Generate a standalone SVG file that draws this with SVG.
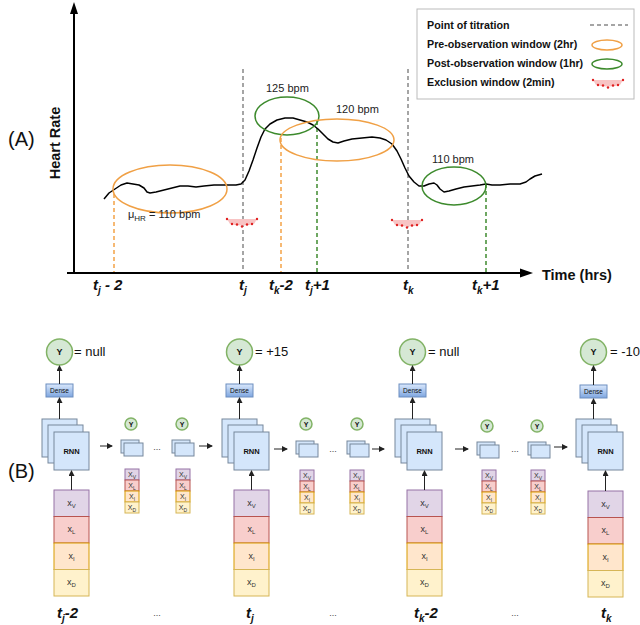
<svg xmlns="http://www.w3.org/2000/svg" width="640" height="625" viewBox="0 0 640 625">
<style>
text{font-family:"Liberation Sans",Arial,sans-serif;fill:#111}
.bi{font-weight:bold;font-style:italic;font-size:15px}
.lg{font-weight:bold;font-size:10.7px}
.bpm{font-size:11px;fill:#222}
.gd{stroke:#888;stroke-width:1.5;stroke-dasharray:4,3;fill:none}
.od{stroke:#f3a347;stroke-width:1.5;stroke-dasharray:4,3;fill:none}
.grd{stroke:#3f8a2f;stroke-width:1.5;stroke-dasharray:4,3;fill:none}
.oe{fill:none;stroke:#f0a045;stroke-width:1.5}
.ge{fill:none;stroke:#3c8a2c;stroke-width:1.5}
.rnn{fill:#d4e6fb;stroke:#76879c;stroke-width:1}
.yc{fill:#d5e8d4;stroke:#82b366;stroke-width:1.5}
.yt{font-weight:bold;font-size:9px;text-anchor:middle}
.yts{font-weight:bold;font-size:7px;text-anchor:middle}
.eq{font-size:13px}
.cv{fill:#e1d5e7;stroke:#9673a6}
.cl{fill:#f8cecc;stroke:#b85450}
.ci{fill:#ffe6cc;stroke:#d79b00}
.cd{fill:#fff2cc;stroke:#d6b656}
.xt{font-size:9px;text-anchor:middle;fill:#333}
.xs{font-size:7px;text-anchor:middle;fill:#333}
.ar{stroke:#222;stroke-width:1;fill:none;marker-end:url(#ah)}
.dots{font-size:9px;text-anchor:middle;fill:#444}
</style>
<defs>
<marker id="ah" markerUnits="userSpaceOnUse" markerWidth="6" markerHeight="6" refX="5" refY="3" orient="auto"><path d="M0,0 L6,3 L0,6 z" fill="#222"/></marker>
<linearGradient id="dg" x1="0" y1="0" x2="0" y2="1"><stop offset="0" stop-color="#dae8fc"/><stop offset="1" stop-color="#7ea6e0"/></linearGradient>
<g id="excl">
<path d="M0,0 L30,0 L27,5 Q15,8 3,5 z" fill="#f8c4c4"/>
<g fill="#e02020"><circle cx="0" cy="0" r="1.2"/><circle cx="30" cy="0" r="1.2"/><circle cx="5" cy="5" r="1.2"/><circle cx="10" cy="5.5" r="1.2"/><circle cx="15" cy="7.5" r="1.2"/><circle cx="20" cy="5.5" r="1.2"/><circle cx="25" cy="5" r="1.2"/></g>
</g>
</defs>
<rect width="640" height="625" fill="#fff"/>

<!-- Panel A -->
<g id="panelA">
<text x="8" y="146" font-size="20">(A)</text>
<text transform="translate(60,143) rotate(-90)" text-anchor="middle" font-weight="bold" font-size="14.5">Heart Rate</text>
<line x1="74" y1="273" x2="74" y2="12" stroke="#000" stroke-width="2"/>
<polygon points="74,2 70,14 78,14" fill="#000"/>
<line x1="67" y1="273" x2="521" y2="273" stroke="#000" stroke-width="2"/>
<polygon points="533,273 520,268.5 520,277.5" fill="#000"/>
<text x="542" y="280" font-weight="bold" font-size="14.5">Time (hrs)</text>

<line class="gd" x1="243" y1="69" x2="243" y2="272"/>
<line class="gd" x1="408" y1="69" x2="408" y2="272"/>
<line class="od" x1="114" y1="194" x2="114" y2="272"/>
<line class="od" x1="281" y1="138" x2="281" y2="272"/>
<line class="grd" x1="317" y1="121" x2="317" y2="272"/>
<line class="grd" x1="486" y1="184" x2="486" y2="272"/>

<polyline fill="none" stroke="#000" stroke-width="1.5" stroke-linejoin="round" points="104,199 109,193 115,189 121,185 127,183 133,184 139,185 144,188 147,192 150,193 156,192 164,190 172,188 180,186 188,186 196,187 204,186 214,185 226,185 236,185 241,184 245,180 249,171 253,160 257,148 261,137 265,129 270,124 277,120 285,118 293,118 300,120 307,122 313,125 318,129 323,134 328,139 333,142 338,143 344,141 352,139 362,138 372,137 380,138 386,140 392,144 397,151 401,159 405,168 409,176 414,182 419,186 424,186 429,184 434,183 437,185 440,189 444,192 449,191 456,189 464,187 472,186 480,185 486,184 492,185 500,185 510,184 520,184 526,182 530,179 535,176 542,174"/>

<ellipse class="oe" cx="170" cy="189" rx="57" ry="24"/>
<ellipse class="ge" cx="287" cy="116" rx="32" ry="19"/>
<ellipse class="oe" cx="337" cy="140" rx="57" ry="21"/>
<ellipse class="ge" cx="454" cy="186" rx="32" ry="19"/>

<text class="bpm" x="266" y="92">125 bpm</text>
<text class="bpm" x="336" y="113">120 bpm</text>
<text class="bpm" x="432" y="163">110 bpm</text>
<text class="bpm" x="128" y="218">μ<tspan font-size="8" dy="3">HR</tspan><tspan dy="-3"> = 110 bpm</tspan></text>

<use href="#excl" x="227" y="219"/>
<use href="#excl" x="392" y="220"/>

<text class="bi" x="93" y="290">t<tspan font-size="10" dy="4">j</tspan><tspan dy="-4"> - 2</tspan></text>
<text class="bi" x="239" y="290">t<tspan font-size="10" dy="4">j</tspan></text>
<text class="bi" x="269" y="290">t<tspan font-size="10" dy="4">k</tspan><tspan dy="-4">-2</tspan></text>
<text class="bi" x="305" y="290">t<tspan font-size="10" dy="4">j</tspan><tspan dy="-4">+1</tspan></text>
<text class="bi" x="403" y="290">t<tspan font-size="10" dy="4">k</tspan></text>
<text class="bi" x="472" y="290">t<tspan font-size="10" dy="4">k</tspan><tspan dy="-4">+1</tspan></text>
</g>

<g id="legend">
<rect x="417" y="9" width="217" height="90" fill="#fff" stroke="#bbb" stroke-width="1"/>
<text class="lg" x="427" y="29">Point of titration</text>
<text class="lg" x="427" y="48">Pre-observation window (2hr)</text>
<text class="lg" x="427" y="67">Post-observation window (1hr)</text>
<text class="lg" x="427" y="86">Exclusion window (2min)</text>
<line class="gd" x1="590" y1="25" x2="628" y2="25"/>
<ellipse class="oe" cx="607" cy="45" rx="15" ry="5"/>
<ellipse class="ge" cx="607" cy="64" rx="15" ry="5"/>
<use href="#excl" x="593" y="80"/>
</g>

<!-- Panel B -->
<text x="8" y="478" font-size="20">(B)</text>

<g id="col1">
<circle class="yc" cx="59.5" cy="352" r="13"/><text class="yt" x="59.5" y="355">Y</text>
<text class="eq" x="74" y="356">= null</text>
<rect x="46" y="384" width="27" height="13" fill="url(#dg)" stroke="#6c8ebf"/><text x="59.5" y="393" font-size="6.5" text-anchor="middle" fill="#223">Dense</text>
<rect class="rnn" x="42" y="419" width="35" height="38"/><rect class="rnn" x="48" y="425" width="35" height="38"/><rect class="rnn" x="54" y="432" width="35" height="38"/>
<text x="71.5" y="454" font-size="7.5" font-weight="bold" text-anchor="middle">RNN</text>
<rect class="cv" x="54" y="490" width="35" height="26.5"/><rect class="cl" x="54" y="516.5" width="35" height="26.5"/><rect class="ci" x="54" y="543" width="35" height="26.5"/><rect class="cd" x="54" y="569.5" width="35" height="26.5"/>
<text class="xt" x="71.5" y="506">x<tspan font-size="6" dy="2">V</tspan></text><text class="xt" x="71.5" y="532">x<tspan font-size="6" dy="2">L</tspan></text><text class="xt" x="71.5" y="559">x<tspan font-size="6" dy="2">I</tspan></text><text class="xt" x="71.5" y="585">x<tspan font-size="6" dy="2">D</tspan></text>
<text class="bi" x="57" y="618">t<tspan font-size="10" dy="4">j</tspan><tspan dy="-4">-2</tspan></text>
</g>

<g id="col2">
<circle class="yc" cx="239.5" cy="352" r="13"/><text class="yt" x="239.5" y="355">Y</text>
<text class="eq" x="255" y="356">= +15</text>
<rect x="226" y="384" width="27" height="13" fill="url(#dg)" stroke="#6c8ebf"/><text x="239.5" y="393" font-size="6.5" text-anchor="middle" fill="#223">Dense</text>
<rect class="rnn" x="222" y="419" width="35" height="38"/><rect class="rnn" x="228" y="425" width="35" height="38"/><rect class="rnn" x="234" y="432" width="35" height="38"/>
<text x="251.5" y="454" font-size="7.5" font-weight="bold" text-anchor="middle">RNN</text>
<rect class="cv" x="234" y="490" width="35" height="26.5"/><rect class="cl" x="234" y="516.5" width="35" height="26.5"/><rect class="ci" x="234" y="543" width="35" height="26.5"/><rect class="cd" x="234" y="569.5" width="35" height="26.5"/>
<text class="xt" x="251.5" y="506">x<tspan font-size="6" dy="2">V</tspan></text><text class="xt" x="251.5" y="532">x<tspan font-size="6" dy="2">L</tspan></text><text class="xt" x="251.5" y="559">x<tspan font-size="6" dy="2">I</tspan></text><text class="xt" x="251.5" y="585">x<tspan font-size="6" dy="2">D</tspan></text>
<text class="bi" x="246" y="618">t<tspan font-size="10" dy="4">j</tspan></text>
</g>

<g id="col3">
<circle class="yc" cx="412.5" cy="352" r="13"/><text class="yt" x="412.5" y="355">Y</text>
<text class="eq" x="428" y="356">= null</text>
<rect x="399" y="384" width="27" height="13" fill="url(#dg)" stroke="#6c8ebf"/><text x="412.5" y="393" font-size="6.5" text-anchor="middle" fill="#223">Dense</text>
<rect class="rnn" x="395" y="419" width="35" height="38"/><rect class="rnn" x="401" y="425" width="35" height="38"/><rect class="rnn" x="407" y="432" width="35" height="38"/>
<text x="424.5" y="454" font-size="7.5" font-weight="bold" text-anchor="middle">RNN</text>
<rect class="cv" x="407" y="490" width="35" height="26.5"/><rect class="cl" x="407" y="516.5" width="35" height="26.5"/><rect class="ci" x="407" y="543" width="35" height="26.5"/><rect class="cd" x="407" y="569.5" width="35" height="26.5"/>
<text class="xt" x="424.5" y="506">x<tspan font-size="6" dy="2">V</tspan></text><text class="xt" x="424.5" y="532">x<tspan font-size="6" dy="2">L</tspan></text><text class="xt" x="424.5" y="559">x<tspan font-size="6" dy="2">I</tspan></text><text class="xt" x="424.5" y="585">x<tspan font-size="6" dy="2">D</tspan></text>
<text class="bi" x="414" y="618">t<tspan font-size="10" dy="4">k</tspan><tspan dy="-4">-2</tspan></text>
</g>

<g id="col4">
<circle class="yc" cx="593.5" cy="352" r="13"/><text class="yt" x="593.5" y="355">Y</text>
<text class="eq" x="610" y="356">= -10</text>
<rect x="580" y="385" width="27" height="13" fill="url(#dg)" stroke="#6c8ebf"/><text x="593.5" y="394" font-size="6.5" text-anchor="middle" fill="#223">Dense</text>
<rect class="rnn" x="576" y="419" width="35" height="38"/><rect class="rnn" x="582" y="425" width="35" height="38"/><rect class="rnn" x="588" y="432" width="35" height="38"/>
<text x="605.5" y="454" font-size="7.5" font-weight="bold" text-anchor="middle">RNN</text>
<rect class="cv" x="588" y="491" width="35" height="26.5"/><rect class="cl" x="588" y="517.5" width="35" height="26.5"/><rect class="ci" x="588" y="544" width="35" height="26.5"/><rect class="cd" x="588" y="570.5" width="35" height="26.5"/>
<text class="xt" x="605.5" y="507">x<tspan font-size="6" dy="2">V</tspan></text><text class="xt" x="605.5" y="533">x<tspan font-size="6" dy="2">L</tspan></text><text class="xt" x="605.5" y="560">x<tspan font-size="6" dy="2">I</tspan></text><text class="xt" x="605.5" y="586">x<tspan font-size="6" dy="2">D</tspan></text>
<text class="bi" x="601" y="618">t<tspan font-size="10" dy="4">k</tspan></text>
</g>

<!-- small intermediate steps -->
<g id="small1a">
<circle class="yc" cx="131" cy="424" r="6"/><text class="yts" x="131" y="426.5">Y</text>
<rect class="rnn" x="121" y="440" width="18" height="13"/><rect class="rnn" x="124" y="443" width="19" height="13"/>
<rect class="cv" x="125" y="469" width="14" height="11"/><rect class="cl" x="125" y="480" width="14" height="11"/><rect class="ci" x="125" y="491" width="14" height="11"/><rect class="cd" x="125" y="502" width="14" height="11"/>
<text class="xs" x="132" y="477">X<tspan font-size="5" dy="1.5">V</tspan></text><text class="xs" x="132" y="488">X<tspan font-size="5" dy="1.5">L</tspan></text><text class="xs" x="132" y="499">X<tspan font-size="5" dy="1.5">I</tspan></text><text class="xs" x="132" y="510">X<tspan font-size="5" dy="1.5">D</tspan></text>
</g>
<g id="small1b">
<circle class="yc" cx="182" cy="424" r="6"/><text class="yts" x="182" y="426.5">Y</text>
<rect class="rnn" x="172" y="440" width="18" height="13"/><rect class="rnn" x="175" y="443" width="19" height="13"/>
<rect class="cv" x="176" y="469" width="14" height="11"/><rect class="cl" x="176" y="480" width="14" height="11"/><rect class="ci" x="176" y="491" width="14" height="11"/><rect class="cd" x="176" y="502" width="14" height="11"/>
<text class="xs" x="183" y="477">X<tspan font-size="5" dy="1.5">V</tspan></text><text class="xs" x="183" y="488">X<tspan font-size="5" dy="1.5">L</tspan></text><text class="xs" x="183" y="499">X<tspan font-size="5" dy="1.5">I</tspan></text><text class="xs" x="183" y="510">X<tspan font-size="5" dy="1.5">D</tspan></text>
</g>
<g id="small2a">
<circle class="yc" cx="306" cy="424" r="6"/><text class="yts" x="306" y="426.5">Y</text>
<rect class="rnn" x="296" y="441" width="18" height="13"/><rect class="rnn" x="299" y="444" width="19" height="13"/>
<rect class="cv" x="300" y="470" width="14" height="11"/><rect class="cl" x="300" y="481" width="14" height="11"/><rect class="ci" x="300" y="492" width="14" height="11"/><rect class="cd" x="300" y="503" width="14" height="11"/>
<text class="xs" x="307" y="478">X<tspan font-size="5" dy="1.5">V</tspan></text><text class="xs" x="307" y="489">X<tspan font-size="5" dy="1.5">L</tspan></text><text class="xs" x="307" y="500">X<tspan font-size="5" dy="1.5">I</tspan></text><text class="xs" x="307" y="511">X<tspan font-size="5" dy="1.5">D</tspan></text>
</g>
<g id="small2b">
<circle class="yc" cx="357" cy="424" r="6"/><text class="yts" x="357" y="426.5">Y</text>
<rect class="rnn" x="347" y="441" width="18" height="13"/><rect class="rnn" x="350" y="444" width="19" height="13"/>
<rect class="cv" x="350" y="470" width="14" height="11"/><rect class="cl" x="350" y="481" width="14" height="11"/><rect class="ci" x="350" y="492" width="14" height="11"/><rect class="cd" x="350" y="503" width="14" height="11"/>
<text class="xs" x="357" y="478">X<tspan font-size="5" dy="1.5">V</tspan></text><text class="xs" x="357" y="489">X<tspan font-size="5" dy="1.5">L</tspan></text><text class="xs" x="357" y="500">X<tspan font-size="5" dy="1.5">I</tspan></text><text class="xs" x="357" y="511">X<tspan font-size="5" dy="1.5">D</tspan></text>
</g>
<g id="small3a">
<circle class="yc" cx="487" cy="426" r="6"/><text class="yts" x="487" y="428.5">Y</text>
<rect class="rnn" x="477" y="442" width="18" height="13"/><rect class="rnn" x="480" y="445" width="19" height="13"/>
<rect class="cv" x="482" y="470" width="14" height="11"/><rect class="cl" x="482" y="481" width="14" height="11"/><rect class="ci" x="482" y="492" width="14" height="11"/><rect class="cd" x="482" y="503" width="14" height="11"/>
<text class="xs" x="489" y="478">X<tspan font-size="5" dy="1.5">V</tspan></text><text class="xs" x="489" y="489">X<tspan font-size="5" dy="1.5">L</tspan></text><text class="xs" x="489" y="500">X<tspan font-size="5" dy="1.5">I</tspan></text><text class="xs" x="489" y="511">X<tspan font-size="5" dy="1.5">D</tspan></text>
</g>
<g id="small3b">
<circle class="yc" cx="537" cy="426" r="6"/><text class="yts" x="537" y="428.5">Y</text>
<rect class="rnn" x="528" y="442" width="18" height="13"/><rect class="rnn" x="531" y="445" width="19" height="13"/>
<rect class="cv" x="531" y="470" width="14" height="11"/><rect class="cl" x="531" y="481" width="14" height="11"/><rect class="ci" x="531" y="492" width="14" height="11"/><rect class="cd" x="531" y="503" width="14" height="11"/>
<text class="xs" x="538" y="478">X<tspan font-size="5" dy="1.5">V</tspan></text><text class="xs" x="538" y="489">X<tspan font-size="5" dy="1.5">L</tspan></text><text class="xs" x="538" y="500">X<tspan font-size="5" dy="1.5">I</tspan></text><text class="xs" x="538" y="511">X<tspan font-size="5" dy="1.5">D</tspan></text>
</g>

<g id="ellipses-text">
<text class="dots" x="157" y="450">...</text><text class="dots" x="333" y="452">...</text><text class="dots" x="515" y="452">...</text>
<text class="dots" x="157" y="616">...</text><text class="dots" x="333" y="616">...</text><text class="dots" x="515" y="616">...</text>
</g>

<g id="connectors">
<line class="ar" x1="59.5" y1="384" x2="59.5" y2="366"/>
<line class="ar" x1="59.5" y1="419" x2="59.5" y2="398"/>
<line class="ar" x1="71.5" y1="490" x2="71.5" y2="471"/>
<line class="ar" x1="239.5" y1="384" x2="239.5" y2="366"/>
<line class="ar" x1="239.5" y1="419" x2="239.5" y2="398"/>
<line class="ar" x1="251.5" y1="490" x2="251.5" y2="471"/>
<line class="ar" x1="412.5" y1="384" x2="412.5" y2="366"/>
<line class="ar" x1="412.5" y1="419" x2="412.5" y2="398"/>
<line class="ar" x1="424.5" y1="490" x2="424.5" y2="471"/>
<line class="ar" x1="593.5" y1="385" x2="593.5" y2="366"/>
<line class="ar" x1="593.5" y1="419" x2="593.5" y2="399"/>
<line class="ar" x1="605.5" y1="491" x2="605.5" y2="471"/>
<line class="ar" x1="100" y1="446" x2="112" y2="446"/>
<line class="ar" x1="199" y1="446" x2="212" y2="446"/>
<line class="ar" x1="274" y1="449" x2="287" y2="449"/>
<line class="ar" x1="372" y1="449" x2="384" y2="449"/>
<line class="ar" x1="455" y1="449" x2="468" y2="449"/>
<line class="ar" x1="554" y1="447" x2="567" y2="447"/>
</g>
</svg>
